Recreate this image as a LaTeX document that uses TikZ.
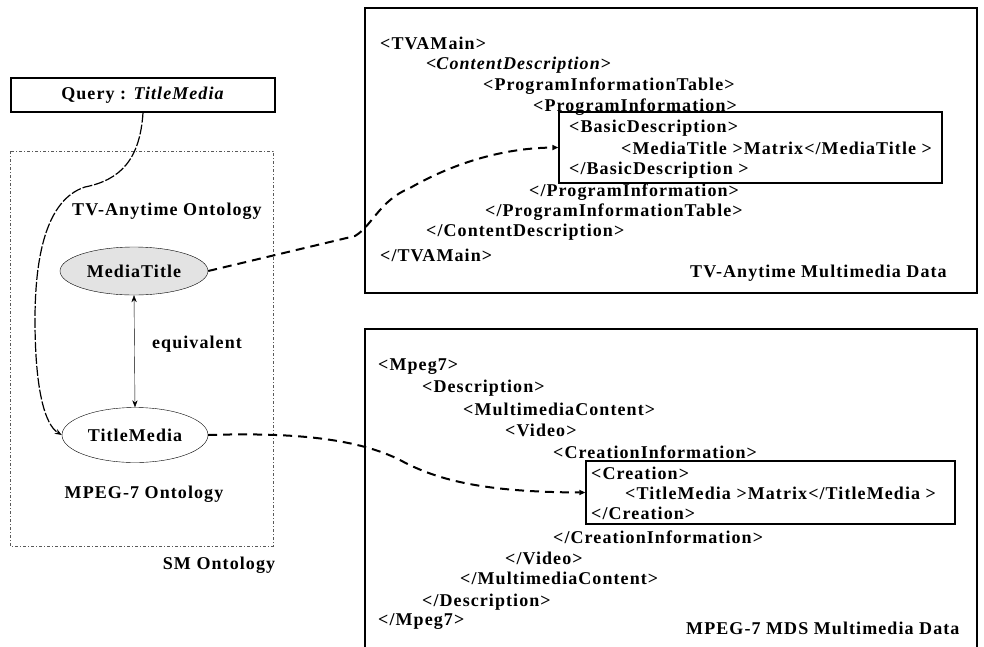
\documentclass[tikz,border=0pt]{standalone}
\usepackage{fontspec}
\setmainfont{Liberation Serif}[LetterSpace=6]
\usetikzlibrary{positioning,arrows.meta,shapes.geometric}

\tikzset{
  txt/.style={inner sep=0pt,font=\bfseries\fontsize{18}{21}\selectfont},
  xml/.style={txt,anchor=west},
  concept/.style={ellipse,draw,thin,inner sep=0pt,font=\bfseries\fontsize{18}{21}\selectfont},
  databox/.style={draw,line width=1.3pt,inner sep=0pt},
  maplink/.style={line width=2pt,dash pattern=on 9pt off 6pt,-{Triangle[open,length=6pt,width=5pt]}},
}

\begin{document}
\begin{tikzpicture}[x=1pt,y=-1pt,>={Stealth[length=7pt]}]
\useasboundingbox (0,0) rectangle (984,646);

% SM ontology (left)
\draw[thin,gray!70!black,dash pattern=on 3pt off 2pt on 1pt off 2pt] (10,151) rectangle (273,546);
\node[draw,line width=1.3pt,minimum width=264pt,minimum height=34pt,inner sep=0pt,font=\bfseries\fontsize{18}{21}\selectfont] (query) at (143,95) {Query : \textit{TitleMedia}};
\node[txt] (tvaont) at (167,211) {TV-Anytime Ontology};
\node[concept,fill=gray!22,minimum width=148pt,minimum height=48pt] (mediatitle) at (134,271) {MediaTitle};
\node[txt] (equiv) at (197,344) {equivalent};
\node[concept,minimum width=146pt,minimum height=55pt] (titlemedia) at (135,435) {TitleMedia};
\node[txt] (mpegont) at (144,494) {MPEG-7 Ontology};
\node[txt] (smont) at (219,565) {SM Ontology};

\draw[<->,thin] (mediatitle.south) -- (titlemedia.north);
\draw[->,line width=1.2pt,dash pattern=on 10pt off 2pt] (query.south) .. controls (140,160) and (120,180) .. (85,187)
  .. controls (45,200) and (35,260) .. (35,320) .. controls (35,390) and (45,425) .. (titlemedia.west);

% TV-Anytime data
\node[databox,minimum width=612pt,minimum height=285pt] (tvabox) at (671,150.5) {};
\node[databox,minimum width=383pt,minimum height=71pt] (basicbox) at (750.5,147.5) {};
\node[xml] (t1) at (380,43) {<TVAMain>};
\node[xml] (t2) at (426,65) {<\textit{ContentDescription}>};
\node[xml] (t3) at (483,86) {<ProgramInformationTable>};
\node[xml] (t4) at (533,107) {<ProgramInformation>};
\node[xml] (t5) at (569,128) {<BasicDescription>};
\node[xml] (t6) at (621,148) {<MediaTitle >Matrix</MediaTitle >};
\node[xml] (t7) at (569,170) {</BasicDescription >};
\node[xml] (t8) at (529,192) {</ProgramInformation>};
\node[xml] (t9) at (485,212) {</ProgramInformationTable>};
\node[xml] (t10) at (426,232) {</ContentDescription>};
\node[xml] (t11) at (380,255) {</TVAMain>};
\node[xml] (tvatitle) at (690,273) {TV-Anytime Multimedia Data};

% MPEG-7 data
\draw[line width=1.3pt] (365,650) -- (365,329) -- (977,329) -- (977,650);
\node[databox,minimum width=369pt,minimum height=63pt] (creationbox) at (770.5,492.5) {};
\node[xml] (m1) at (378,367) {<Mpeg7>};
\node[xml] (m2) at (422,388) {<Description>};
\node[xml] (m3) at (463,409) {<MultimediaContent>};
\node[xml] (m4) at (505,430) {<Video>};
\node[xml] (m5) at (553,452) {<CreationInformation>};
\node[xml] (m6) at (591,473) {<Creation>};
\node[xml] (m7) at (625,493) {<TitleMedia >Matrix</TitleMedia >};
\node[xml] (m8) at (591,513) {</Creation>};
\node[xml] (m9) at (553,537) {</CreationInformation>};
\node[xml] (m10) at (505,558) {</Video>};
\node[xml] (m11) at (460,578) {</MultimediaContent>};
\node[xml] (m12) at (422,602) {</Description>};
\node[xml] (m13) at (378,622) {</Mpeg7>};
\node[xml] (mpegtitle) at (686,628) {MPEG-7 MDS Multimedia Data};

% mappings
\draw[maplink] (mediatitle.east) -- (355,236) .. controls (372,226) and (380,200) .. (410,188)
  .. controls (450,165) and (500,148) .. (basicbox.west);
\draw[maplink] (titlemedia.east) .. controls (300,432) and (360,440) .. (400,460)
  .. controls (440,482) and (490,492) .. (creationbox.west);
\end{tikzpicture}
\end{document}
